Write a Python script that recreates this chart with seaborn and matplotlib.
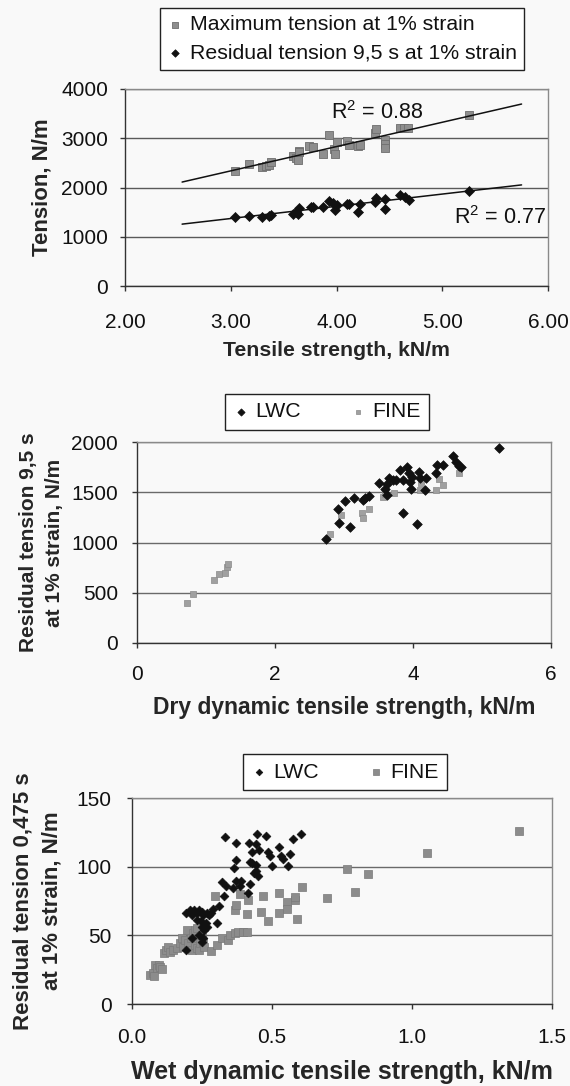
import numpy as np
import pandas as pd
import matplotlib
matplotlib.use("Agg")
import matplotlib.pyplot as plt
import seaborn as sns

# ---- Panel 1: tension vs tensile strength ----
max_x = [3.04, 3.17, 3.30, 3.33, 3.36, 3.38, 3.59, 3.62, 3.64, 3.65, 3.65, 3.74, 3.78, 3.87,
         3.93, 3.98, 4.00, 3.99, 4.10, 4.12, 4.20, 4.22, 4.36, 4.37, 4.46, 4.46, 4.46, 4.60,
         4.64, 4.68, 5.25]
max_y = [2330, 2480, 2420, 2430, 2460, 2520, 2640, 2600, 2560, 2750, 2720, 2840, 2820, 2690,
         3060, 2780, 2930, 2680, 2950, 2870, 2840, 2860, 3100, 3190, 2960, 2880, 2800, 3200,
         3200, 3200, 3480]
res_x = [3.04, 3.17, 3.30, 3.36, 3.38, 3.59, 3.62, 3.64, 3.65, 3.76, 3.78, 3.87, 3.93, 3.97,
         3.99, 4.00, 4.10, 4.12, 4.20, 4.22, 4.36, 4.37, 4.46, 4.46, 4.60, 4.65, 4.69, 5.25]
res_y = [1400, 1420, 1410, 1430, 1450, 1460, 1510, 1460, 1580, 1610, 1610, 1610, 1730, 1690,
         1540, 1640, 1660, 1670, 1510, 1660, 1700, 1780, 1770, 1570, 1850, 1800, 1750, 1930]
r2_labels = [r"R$^{2}$ = 0.88", r"R$^{2}$ = 0.77"]

# ---- Panel 2: residual tension 9,5 s vs dry dynamic tensile strength ----
dry_lwc_x = [2.74, 2.92, 2.93, 3.01, 3.09, 3.14, 3.27, 3.31, 3.36, 3.50, 3.59, 3.62, 3.63,
             3.65, 3.71, 3.76, 3.81, 3.85, 3.86, 3.91, 3.94, 3.96, 3.97, 3.98, 4.06, 4.08,
             4.10, 4.18, 4.19, 4.34, 4.35, 4.44, 4.58, 4.63, 4.67, 4.70, 5.24]
dry_lwc_y = [1030, 1330, 1190, 1410, 1150, 1445, 1425, 1440, 1460, 1595, 1535, 1475, 1585,
             1645, 1625, 1620, 1725, 1620, 1290, 1750, 1690, 1600, 1535, 1650, 1185, 1700,
             1640, 1520, 1645, 1690, 1775, 1775, 1860, 1800, 1765, 1750, 1940]
dry_fine_x = [0.73, 0.81, 1.12, 1.19, 1.27, 1.31, 1.32, 2.80, 2.96, 3.26, 3.28, 3.36, 3.56,
              3.60, 3.72, 4.10, 4.12, 4.33, 4.37, 4.44, 4.67]
dry_fine_y = [400, 490, 630, 690, 700, 760, 790, 1080, 1275, 1290, 1245, 1335, 1450,
              1485, 1490, 1520, 1595, 1525, 1635, 1575, 1690]

# ---- Panel 3: residual tension 0,475 s vs wet dynamic tensile strength ----
wet_lwc_x = [0.193, 0.207, 0.213, 0.222, 0.231, 0.240, 0.249, 0.255, 0.231, 0.245, 0.267,
             0.276, 0.264, 0.302, 0.269, 0.310, 0.323, 0.328, 0.335, 0.332, 0.361, 0.365,
             0.371, 0.373, 0.371, 0.391, 0.387, 0.415, 0.418, 0.421, 0.421, 0.429, 0.435,
             0.442, 0.430, 0.444, 0.448, 0.444, 0.450, 0.454, 0.480, 0.486, 0.494, 0.501,
             0.525, 0.531, 0.541, 0.557, 0.563, 0.574, 0.602, 0.193, 0.249, 0.258, 0.255,
             0.249, 0.238, 0.215, 0.290, 0.283]
wet_lwc_y = [66.6, 68.6, 64.9, 68.1, 66.1, 68.6, 67.3, 64.9, 61.3, 60.8, 66.6,
             64.9, 58.8, 59.3, 55.9, 71.5, 88.5, 79.0, 85.6, 121.6, 84.4, 99.0,
             105.0, 117.2, 89.2, 89.2, 86.0, 80.7, 117.2, 87.5, 103.1, 110.6, 95.3,
             96.5, 102.6, 116.7, 124.0, 101.4, 92.9, 112.3, 122.0, 110.4, 108.0, 100.7,
             114.0, 107.5, 105.5, 100.2, 109.2, 120.1, 123.8, 39.4, 56.3, 53.9, 47.8,
             45.0, 50.0, 48.0, 69.0, 66.0]
wet_fine_x = [0.065, 0.075, 0.079, 0.083, 0.089, 0.095, 0.100, 0.107, 0.113, 0.122, 0.130,
              0.136, 0.148, 0.160, 0.172, 0.178, 0.181, 0.190, 0.195, 0.201, 0.210, 0.213,
              0.219, 0.225, 0.225, 0.231, 0.233, 0.237, 0.240, 0.243, 0.249, 0.255, 0.257,
              0.281, 0.302, 0.320, 0.344, 0.350, 0.367, 0.379, 0.397, 0.409, 0.296, 0.367,
              0.373, 0.385, 0.415, 0.411, 0.468, 0.462, 0.486, 0.525, 0.526, 0.552, 0.552,
              0.582, 0.582, 0.588, 0.608, 0.695, 0.769, 0.796, 0.842, 1.055, 1.383]
wet_fine_y = [21.2, 22.9, 20.4, 28.4, 26.0, 28.4, 26.7, 25.3, 37.0, 39.4, 41.8,
              38.2, 39.4, 40.6, 44.2, 47.9, 41.8, 46.7, 54.0, 44.2, 47.9, 39.4,
              51.5, 43.0, 54.0, 40.6, 55.2, 47.9, 39.4, 44.2, 50.3, 45.5, 41.8,
              38.7, 43.0, 47.9, 46.7, 50.3, 51.5, 52.3, 52.3, 52.3, 78.3, 68.6,
              72.2, 80.2, 75.9, 65.4, 79.0, 67.3, 60.8, 80.7, 66.6, 74.0, 69.0,
              75.5, 78.0, 61.7, 85.0, 77.4, 98.0, 81.8, 94.7, 110.2, 126.0]

sns.set_theme(style="white")
plt.rcParams["font.family"] = ["Liberation Sans", "DejaVu Sans"]
plt.rcParams["mathtext.fontset"] = "custom"
plt.rcParams["mathtext.rm"] = "Liberation Sans"
plt.rcParams["mathtext.it"] = "Liberation Sans"
plt.rcParams["text.color"] = "#111111"

BG = "#f9f9f9"
W, H = 570, 1086
fig = plt.figure(figsize=(W / 100, H / 100), dpi=100, facecolor=BG)


def add_axes_px(left, right, top, bottom):
    return fig.add_axes([left / W, 1 - bottom / H, (right - left) / W, (bottom - top) / H])


def style_axes(ax, xlim, ylim, xticks, yticks, xfmt, xpad, ypad, gridcolor):
    ax.set_facecolor(BG)
    ax.set_xlim(*xlim)
    ax.set_ylim(*ylim)
    ax.set_xticks(xticks)
    ax.set_xticklabels([xfmt.format(v) for v in xticks])
    ax.set_yticks(yticks)
    ax.set_yticklabels([str(v) for v in yticks])
    ax.yaxis.grid(True, color=gridcolor, lw=1.0)
    ax.xaxis.grid(False)
    ax.set_axisbelow(True)
    for side in ("left", "bottom"):
        ax.spines[side].set_color("#333333")
        ax.spines[side].set_linewidth(1.0)
    for side in ("right", "top"):
        ax.spines[side].set_color("#8a8a8a")
        ax.spines[side].set_linewidth(1.0)
    ax.tick_params(axis="both", which="major", direction="out", length=3.6, width=1.0,
                   color="#333333", labelsize=15, labelcolor="#111111",
                   bottom=True, left=True)
    ax.tick_params(axis="x", pad=xpad)
    ax.tick_params(axis="y", pad=ypad)


def add_legend(ax, handles, labels, cx, cy, ncol, **kw):
    leg = ax.legend(handles, labels, loc="center", bbox_to_anchor=(cx / W, 1 - cy / H),
                    bbox_transform=fig.transFigure, ncol=ncol, frameon=True,
                    fancybox=False, edgecolor="#222222", facecolor="white",
                    framealpha=1.0, fontsize=15.3, markerscale=0.75,
                    handlelength=0.7, handletextpad=0.35, borderaxespad=0, **kw)
    leg.get_frame().set_linewidth(1.0)
    return leg


# ---------------- Panel 1 ----------------
ax1 = add_axes_px(125, 548, 89, 286)
sns.scatterplot(x=max_x, y=max_y, marker="s", s=30, color="#8e8e8e", edgecolor="#6e6e6e",
                linewidth=0.6, label="Maximum tension at 1% strain", ax=ax1, zorder=3)
sns.scatterplot(x=res_x, y=res_y, marker="D", s=26, color="#111111", edgecolor="#111111",
                linewidth=0.5, label="Residual tension 9,5 s at 1% strain", ax=ax1, zorder=3)

# linear trend lines, extended half a unit beyond the data on both sides
for xs, ys in ((max_x, max_y), (res_x, res_y)):
    k, b = np.polyfit(xs, ys, 1)
    xl = np.array([min(xs) - 0.5, max(xs) + 0.5])
    sns.lineplot(x=xl, y=k * xl + b, color="#111111", lw=1.1, ax=ax1, zorder=4)

style_axes(ax1, (2, 6), (0, 4000), [2, 3, 4, 5, 6], [0, 1000, 2000, 3000, 4000], "{:.2f}",
           xpad=16, ypad=8.6, gridcolor="#5a5a5a")
ax1.text(4.38, 3530, r2_labels[0], fontsize=15.5, ha="center", va="center")
ax1.text(5.55, 1400, r2_labels[1], fontsize=15.5, ha="center", va="center")
ax1.set_xlabel("Tensile strength, kN/m", fontsize=15.3, fontweight="bold", labelpad=6)
ax1.set_ylabel("Tension, N/m", fontsize=16, fontweight="bold", labelpad=6)
h, l = ax1.get_legend_handles_labels()
add_legend(ax1, h, l, 342, 39, 1, borderpad=0.35, labelspacing=0.45)

# ---------------- Panel 2 ----------------
ax2 = add_axes_px(137, 551, 442, 643)
sns.scatterplot(x=dry_lwc_x, y=dry_lwc_y, marker="D", s=24, color="#111111",
                edgecolor="#111111", linewidth=0.5, label="LWC", ax=ax2, zorder=4)
sns.scatterplot(x=dry_fine_x, y=dry_fine_y, marker="s", s=22, color="#a0a0a0",
                edgecolor="#8a8a8a", linewidth=0.5, label="FINE", ax=ax2, zorder=3)
style_axes(ax2, (0, 6), (0, 2000), [0, 2, 4, 6], [0, 500, 1000, 1500, 2000], "{:d}",
           xpad=12, ypad=10, gridcolor="#6a6a6a")
ax2.set_xlabel("Dry dynamic tensile strength, kN/m", fontsize=16.5, fontweight="bold",
               labelpad=9)
ax2.set_ylabel("Residual tension 9,5 s\nat 1% strain, N/m", fontsize=15, fontweight="bold",
               labelpad=5, linespacing=1.5)
h, l = ax2.get_legend_handles_labels()
add_legend(ax2, h, l, 327, 412, 2, borderpad=0.4, columnspacing=2.3)

# ---------------- Panel 3 ----------------
ax3 = add_axes_px(132, 552, 798, 1004)
sns.scatterplot(x=wet_fine_x, y=wet_fine_y, marker="s", s=40, color="#8c8c8c",
                edgecolor="#7a7a7a", linewidth=0.5, label="FINE", ax=ax3, zorder=3)
sns.scatterplot(x=wet_lwc_x, y=wet_lwc_y, marker="D", s=20, color="#111111",
                edgecolor="#111111", linewidth=0.5, label="LWC", ax=ax3, zorder=4)
style_axes(ax3, (0, 1.5), (0, 150), [0.0, 0.5, 1.0, 1.5], [0, 50, 100, 150], "{:.1f}",
           xpad=13.7, ypad=11, gridcolor="#6a6a6a")
ax3.set_xlabel("Wet dynamic tensile strength, kN/m", fontsize=18, fontweight="bold",
               labelpad=9.5)
ax3.set_ylabel("Residual tension 0,475 s\nat 1% strain, N/m", fontsize=16,
               fontweight="bold", labelpad=10.5, linespacing=1.45)
h, l = ax3.get_legend_handles_labels()
order = [l.index("LWC"), l.index("FINE")]
add_legend(ax3, [h[i] for i in order], [l[i] for i in order], 345, 772, 2,
           borderpad=0.4, columnspacing=2.3)

fig.savefig("out.png", dpi=100, facecolor=BG)
